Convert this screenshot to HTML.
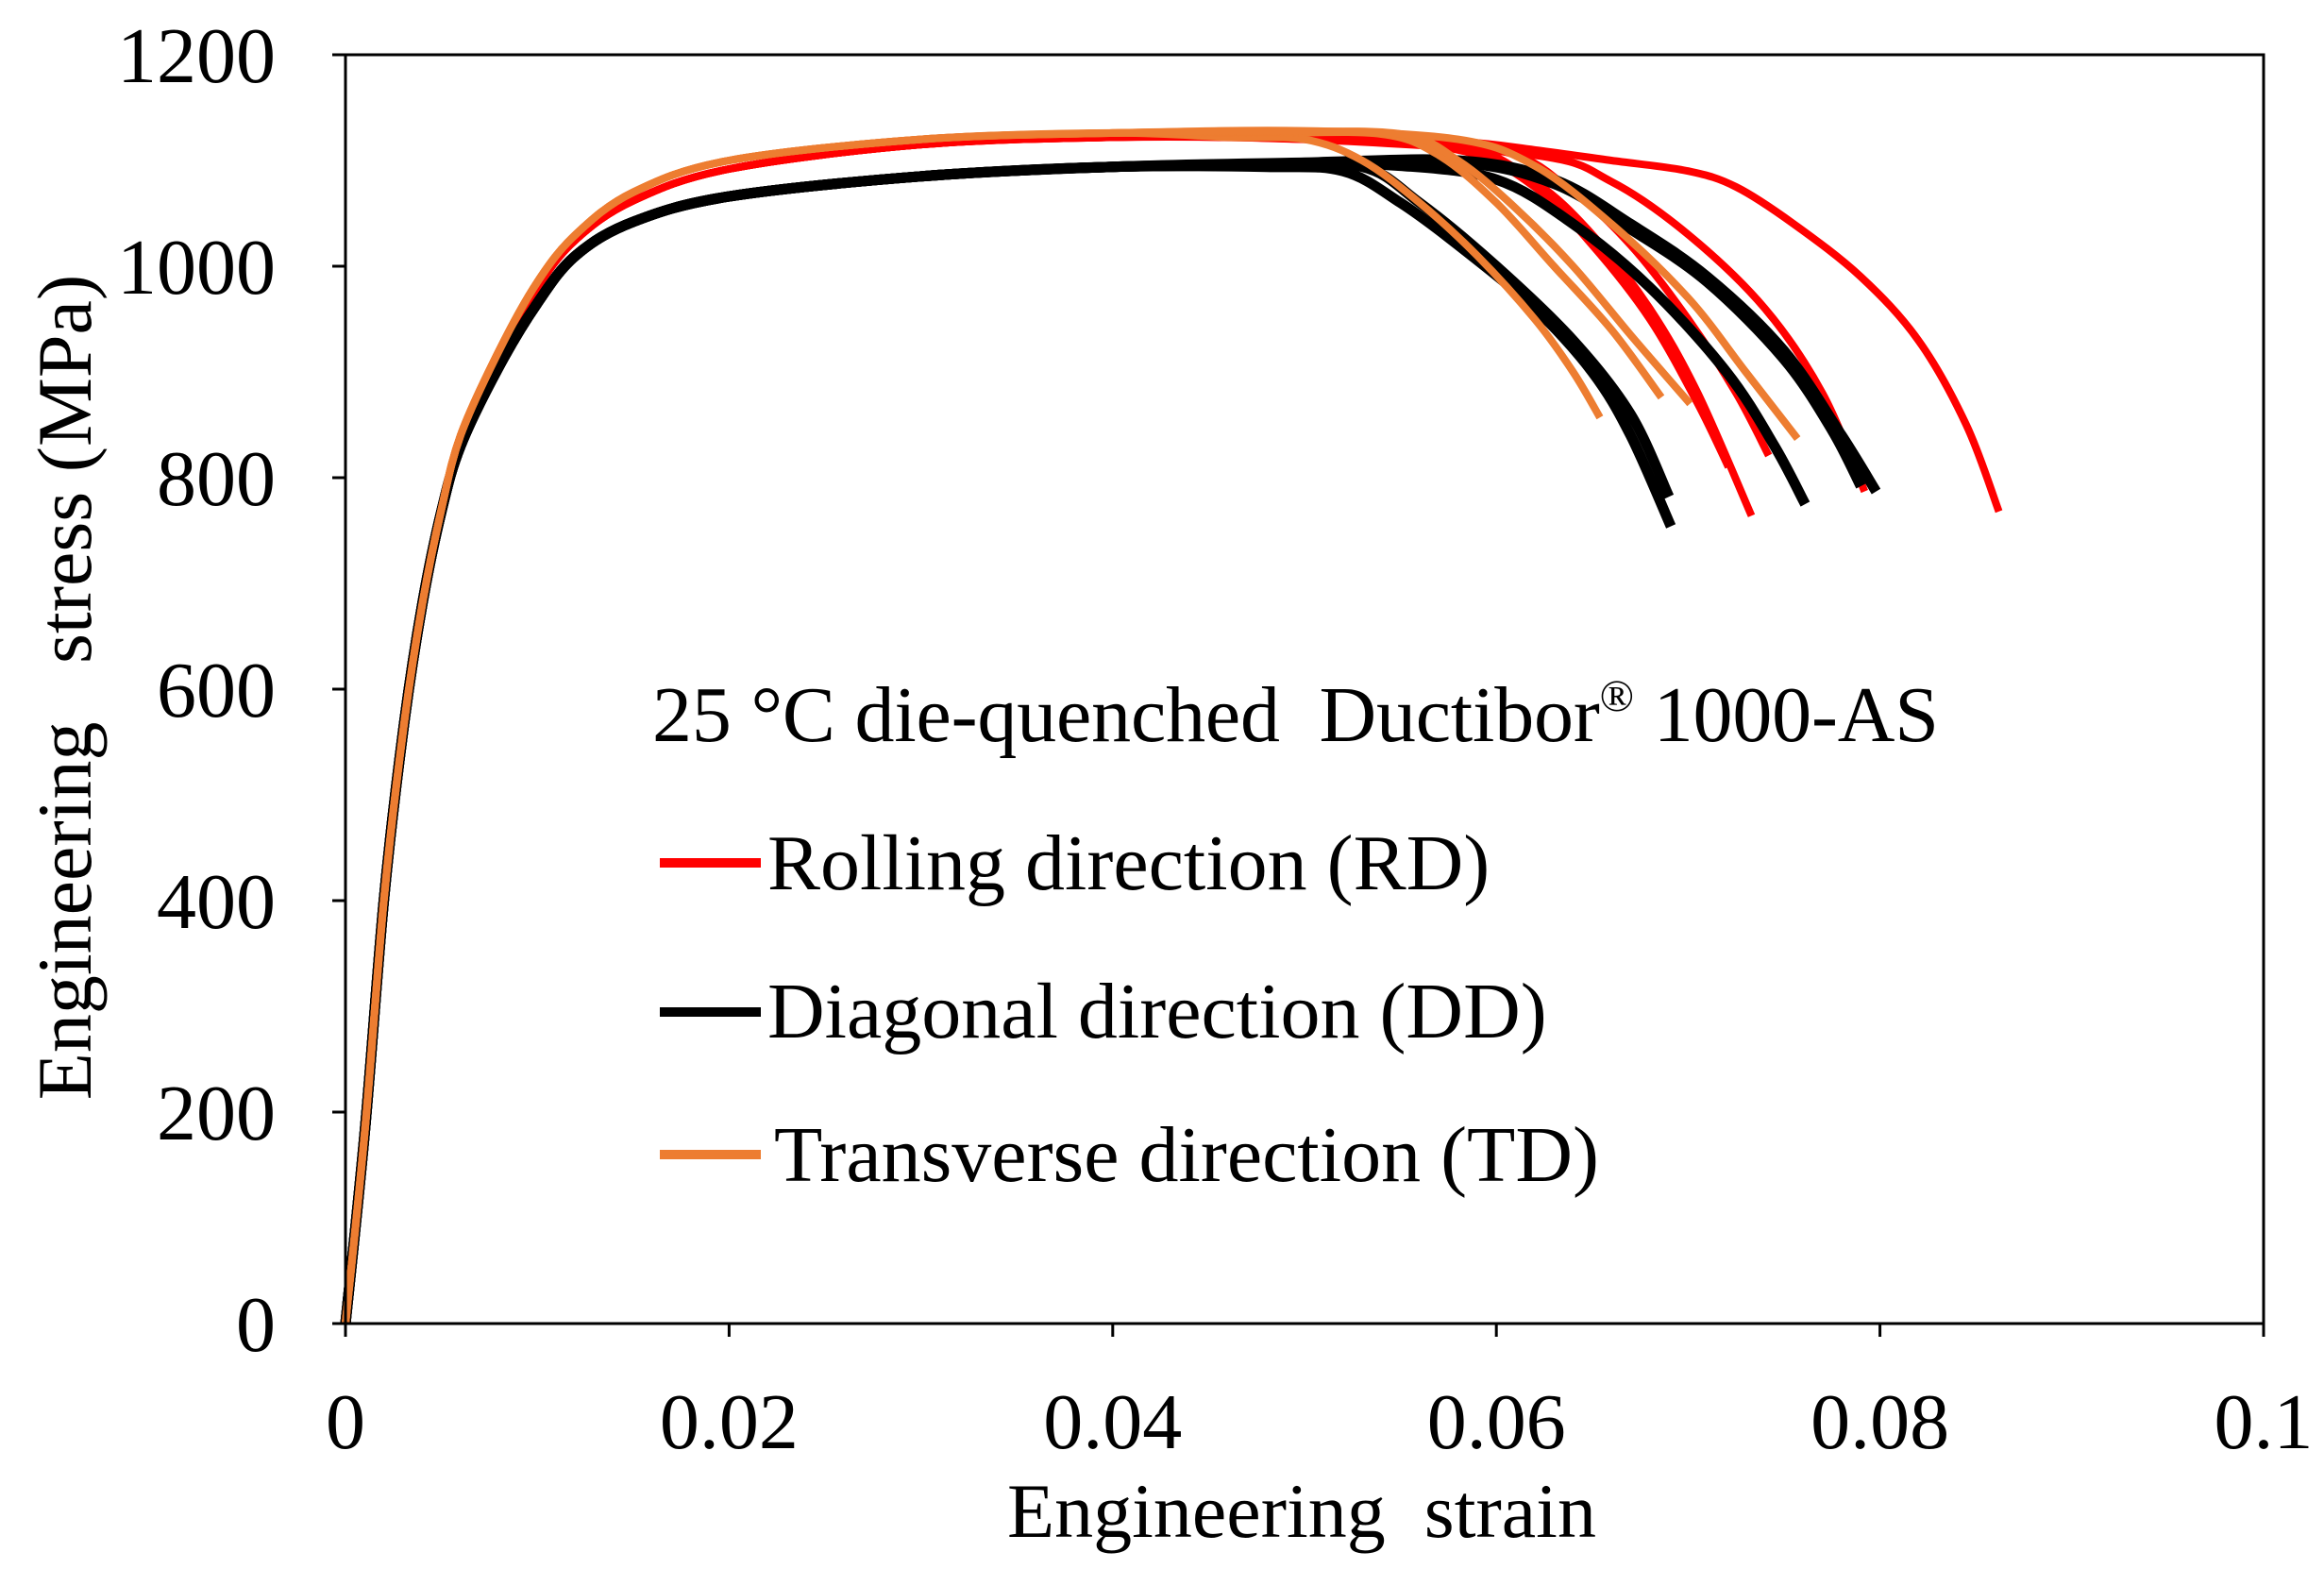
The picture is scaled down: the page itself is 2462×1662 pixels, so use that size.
<!DOCTYPE html>
<html><head><meta charset="utf-8"><style>
html,body{margin:0;padding:0;background:#fff;}
svg{display:block;font-family:"Liberation Serif",serif;}
</style></head><body>
<svg id="chart" width="2462" height="1662" viewBox="0 0 2462 1662" xmlns="http://www.w3.org/2000/svg">
<rect width="2462" height="1662" fill="#fff"/>
<g id="curves"></g>
<rect x="366" y="58" width="2032" height="1344" fill="none" stroke="#000" stroke-width="3"/>
<g id="axes"></g>
<text x="1379" y="1628" font-size="82" text-anchor="middle" xml:space="preserve">Engineering  strain</text>
<text transform="translate(96,728) rotate(-90)" font-size="82" text-anchor="middle" xml:space="preserve">Engineering   stress (MPa)</text>
<g>
<text x="691" y="785" font-size="84" textLength="1363" xml:space="preserve">25 °C die-quenched  Ductibor<tspan font-size="48" dy="-32">®</tspan><tspan dy="32"> 1000-AS</tspan></text>
<line x1="699" y1="914" x2="806" y2="914" stroke="#ff0000" stroke-width="10"/>
<text x="813" y="942" font-size="84">Rolling direction (RD)</text>
<line x1="699" y1="1072" x2="806" y2="1072" stroke="#000" stroke-width="10"/>
<text x="813" y="1099" font-size="84">Diagonal direction (DD)</text>
<line x1="699" y1="1223" x2="806" y2="1223" stroke="#ed7d31" stroke-width="10"/>
<text x="820" y="1251" font-size="84">Transverse direction (TD)</text>
</g>
</svg>
<script>
const xTicks = [0, 0.02, 0.04, 0.06, 0.08, 0.1];
const xTickLabels = ["0", "0.02", "0.04", "0.06", "0.08", "0.1"];
const yTicks = [0, 200, 400, 600, 800, 1000, 1200];
const yTickLabels = ["0", "200", "400", "600", "800", "1000", "1200"];

const riseStrain = [0, 0.001, 0.002, 0.003, 0.004, 0.005, 0.006, 0.008, 0.010, 0.012, 0.015, 0.020, 0.030, 0.040];
const riseRD = [0, 180, 400, 560, 680, 770, 835, 915, 980, 1025, 1062, 1092, 1115, 1122];
const riseDD = [0, 180, 400, 560, 680, 768, 830, 905, 965, 1010, 1042, 1066, 1085, 1094];
const riseTD = [0, 180, 400, 560, 680, 770, 840, 920, 985, 1030, 1070, 1100, 1120, 1126];

const tailsRD = [
  [[0.05,1122],[0.058,1115],[0.062,1080],[0.065,1030],[0.068,960],[0.0705,880],[0.0733,764]],
  [[0.05,1120],[0.058,1110],[0.062,1075],[0.065,1020],[0.068,950],[0.0705,870],[0.0721,810]],
  [[0.05,1122],[0.06,1110],[0.064,1070],[0.067,1020],[0.070,950],[0.0725,880],[0.0742,821]],
  [[0.05,1120],[0.062,1105],[0.066,1080],[0.070,1030],[0.074,960],[0.077,880],[0.0792,787]],
  [[0.05,1124],[0.058,1118],[0.062,1110],[0.066,1100],[0.070,1090],[0.0725,1075],[0.0755,1040],[0.079,990],[0.082,930],[0.0845,850],[0.0862,768]]
];
const tailsDD = [
  [[0.048,1094],[0.052,1090],[0.055,1060],[0.058,1020],[0.062,960],[0.065,900],[0.067,840],[0.0691,754]],
  [[0.048,1095],[0.053,1094],[0.056,1060],[0.060,1000],[0.064,930],[0.067,860],[0.069,782]],
  [[0.05,1096],[0.055,1095],[0.060,1082],[0.064,1040],[0.068,980],[0.072,900],[0.0745,830],[0.0761,775]],
  [[0.05,1098],[0.058,1100],[0.063,1082],[0.067,1040],[0.071,990],[0.075,920],[0.078,840],[0.0798,787]],
  [[0.05,1096],[0.058,1098],[0.063,1078],[0.067,1035],[0.071,985],[0.075,912],[0.0775,845],[0.079,792]]
];
const tailsTD = [
  [[0.046,1122],[0.050,1120],[0.053,1100],[0.056,1060],[0.059,1010],[0.062,950],[0.064,900],[0.0654,857]],
  [[0.048,1126],[0.054,1125],[0.057,1105],[0.060,1060],[0.063,1000],[0.066,940],[0.0686,876]],
  [[0.048,1127],[0.055,1125],[0.058,1100],[0.061,1055],[0.064,1000],[0.067,935],[0.0701,870]],
  [[0.05,1128],[0.058,1120],[0.062,1095],[0.066,1040],[0.070,970],[0.073,900],[0.0757,837]]
];

const X0 = 366, X1 = 2398, Y0 = 1402, Y1 = 58;
function sx(v){ return X0 + v / 0.1 * (X1 - X0); }
function sy(v){ return Y0 - v / 1200 * (Y0 - Y1); }
const NS = "http://www.w3.org/2000/svg";

const axes = document.getElementById('axes');
xTicks.forEach((t, i) => {
  const l = document.createElementNS(NS, 'line');
  l.setAttribute('x1', sx(t)); l.setAttribute('x2', sx(t));
  l.setAttribute('y1', Y0); l.setAttribute('y2', Y0 + 14);
  l.setAttribute('stroke', '#000'); l.setAttribute('stroke-width', 3);
  
  
  axes.appendChild(l);
  const tx = document.createElementNS(NS, 'text');
  tx.setAttribute('x', sx(t)); tx.setAttribute('y', Y0 + 132);
  tx.setAttribute('font-size', 84); tx.setAttribute('text-anchor', 'middle');
  tx.textContent = xTickLabels[i];
  
  
  axes.appendChild(tx);
});
yTicks.forEach((t, i) => {
  const l = document.createElementNS(NS, 'line');
  l.setAttribute('x1', X0 - 14); l.setAttribute('x2', X0);
  l.setAttribute('y1', sy(t)); l.setAttribute('y2', sy(t));
  l.setAttribute('stroke', '#000'); l.setAttribute('stroke-width', 3);
  
  
  axes.appendChild(l);
  const tx = document.createElementNS(NS, 'text');
  tx.setAttribute('x', 292); tx.setAttribute('y', sy(t) + 29);
  tx.setAttribute('font-size', 84); tx.setAttribute('text-anchor', 'end');
  tx.textContent = yTickLabels[i];
  
  
  axes.appendChild(tx);
});

function pathFor(pts){
  const p = pts.map(q => [sx(q[0]), sy(q[1])]);
  let d = 'M' + p[0][0].toFixed(1) + ',' + p[0][1].toFixed(1);
  for (let i = 0; i < p.length - 1; i++) {
    const a = p[i-1] || p[i], b = p[i], c = p[i+1], e = p[i+2] || c;
    const c1x = b[0] + (c[0] - a[0]) / 6, c1y = b[1] + (c[1] - a[1]) / 6;
    const c2x = c[0] - (e[0] - b[0]) / 6, c2y = c[1] - (e[1] - b[1]) / 6;
    d += ' C' + c1x.toFixed(1) + ',' + c1y.toFixed(1) + ' ' + c2x.toFixed(1) + ',' + c2y.toFixed(1) + ' ' + c[0].toFixed(1) + ',' + c[1].toFixed(1);
  }
  return d;
}
const curves = document.getElementById('curves');
function drawSeries(rise, tails, color, name, w){
  tails.forEach(tail => {
    const pts = riseStrain.map((s, i) => [s, rise[i]]).filter(q => q[0] < tail[0][0]).concat(tail);
    const path = document.createElementNS(NS, 'path');
    path.setAttribute('d', pathFor(pts));
    path.setAttribute('fill', 'none');
    path.setAttribute('stroke', color);
    path.setAttribute('stroke-width', w);
    path.setAttribute('stroke-linejoin', 'round');
    
    
    curves.appendChild(path);
  });
}
drawSeries(riseRD, tailsRD, '#ff0000', 'rd-curve', 8);
drawSeries(riseDD, tailsDD, '#000000', 'dd-curve', 11);
drawSeries(riseTD, tailsTD, '#ed7d31', 'td-curve', 8);
</script>
</body></html>
